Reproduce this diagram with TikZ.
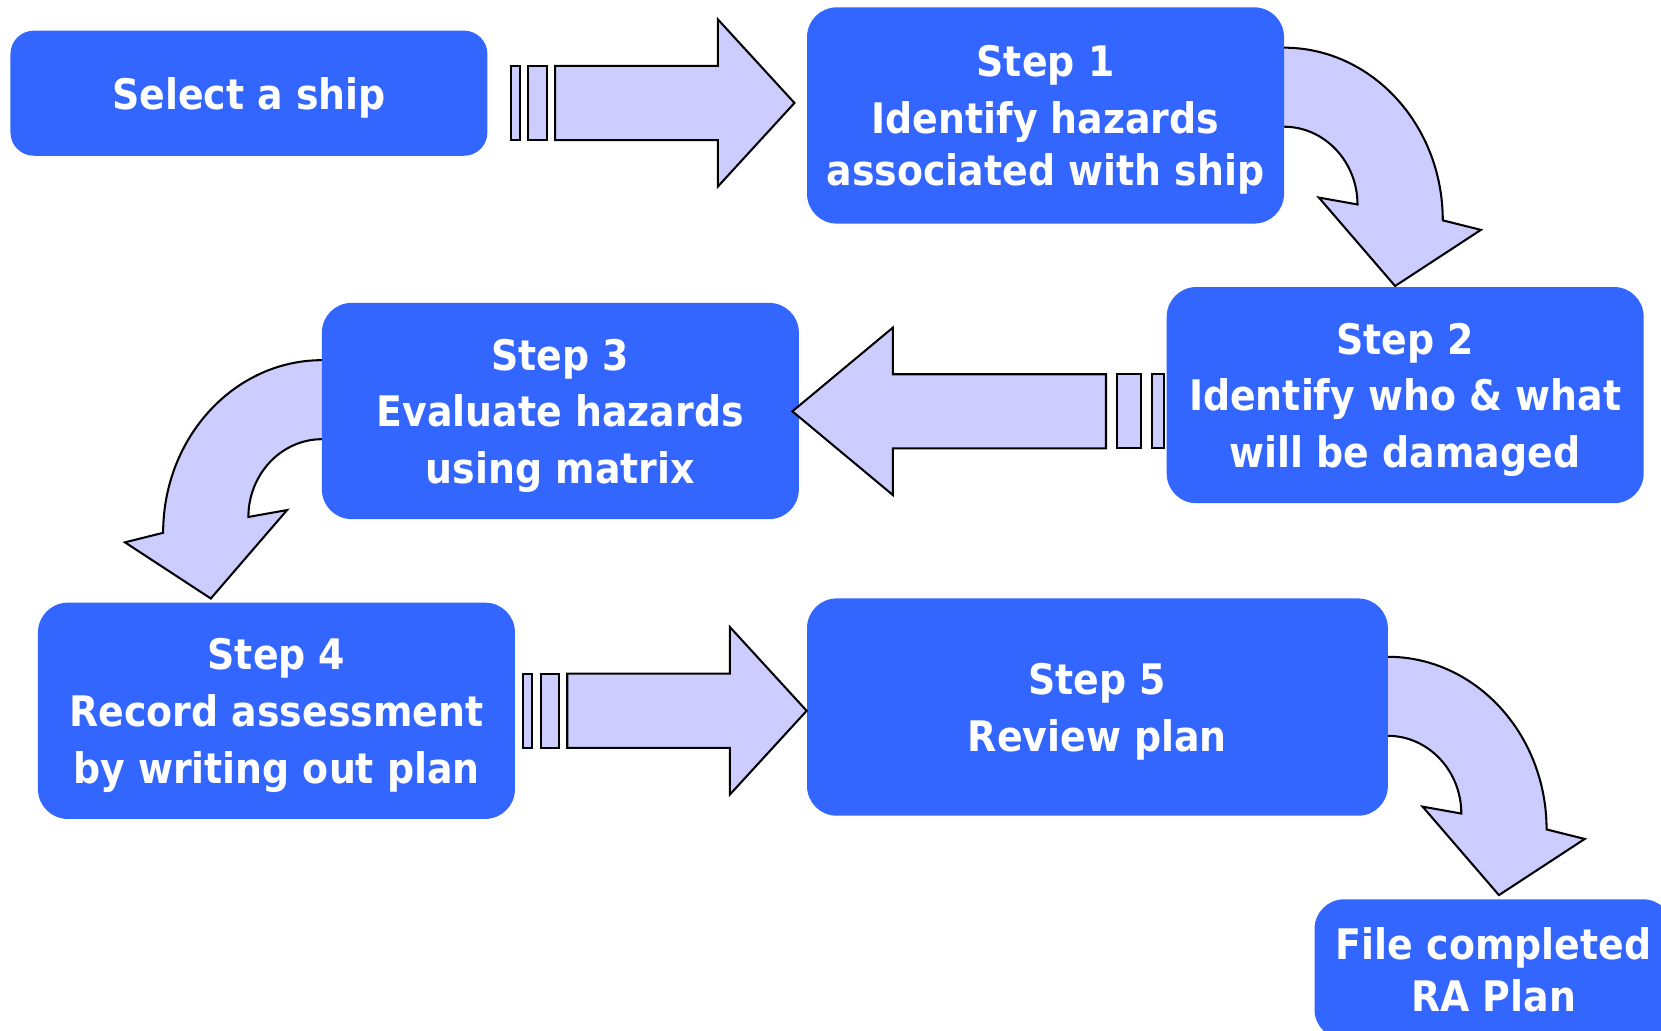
\documentclass[tikz,border=0pt]{standalone}
\usepackage{fontspec}
\newfontfamily\boxfont{DejaVu Sans Condensed Bold}
\usepackage{tikz}

\definecolor{boxblue}{HTML}{3366FF}
\definecolor{arrowfill}{HTML}{CCCCFF}

\tikzset{
  stepbox/.style={rectangle, rounded corners=0.28cm, fill=boxblue, text=white,
    inner sep=0pt, align=center, text depth=0pt,
    minimum width=4.5cm, minimum height=2.04cm,
    font=\boxfont\fontsize{11.3}{15.2}\selectfont},
  tightlines/.style={font=\boxfont\fontsize{11.3}{13.9}\selectfont},
  blockarrow/.style={draw=black, fill=arrowfill, line width=0.55pt},
  stripedarrow/.pic={
    \draw[blockarrow] (-268,-35) rectangle (-259.3,35);
    \draw[blockarrow] (-251.2,-35) rectangle (-234,35);
    \draw[blockarrow] (-226,-35) -- (-72.4,-35) -- (-72.4,-79) -- (0,0) -- (-72.4,79) -- (-72.4,35) -- (-226,35) -- cycle;
  },
  bentarrow/.pic={
    \draw[blockarrow] (-4,0) -- (0,0) .. controls (82.8,0) and (150,73) .. (150,163) -- (186,172) -- (105,225)
      -- (33,141.5) -- (69.5,148) .. controls (69.5,107.7) and (38.4,74.6) .. (0,74.6) -- (-4,74.6) -- cycle;
  }
}

\begin{document}
\begin{tikzpicture}[x=0.01cm, y=-0.01cm]
  \useasboundingbox (0,0) rectangle (1568,973);
  \clip (0,0) rectangle (1568,973);

  % bent arrows sit behind the boxes
  \pic at (1212,45) {bentarrow};
  \pic[xscale=-1] at (304,340) {bentarrow};
  \pic at (1310,620) {bentarrow};

  \node[stepbox, minimum height=1.18cm, rounded corners=0.22cm] (select) at (235,88) {Select a ship};
  \node[stepbox, tightlines] (step1) at (987,109) {Step 1\\[1.3pt]Identify hazards\\associated with ship};
  \node[stepbox] (step2) at (1326.5,373) {Step 2\\Identify who \& what\\will be damaged};
  \node[stepbox] (step3) at (529,388) {Step 3\\Evaluate hazards\\using matrix};
  \node[stepbox] (step4) at (261,671) {Step 4\\Record assessment\\by writing out plan};
  \node[stepbox, minimum width=5.48cm, minimum height=2.05cm] (step5) at (1036,667.5) {Step 5\\Review plan};
  \node[stepbox, tightlines, minimum width=3.38cm, minimum height=1.32cm] (file) at (1410,915) {File completed\\RA Plan};

  \pic at (750,97.2) {stripedarrow};
  \pic[xscale=-1.31] at (748,388.3) {stripedarrow};
  \pic at (761.5,671) {stripedarrow};
\end{tikzpicture}
\end{document}
